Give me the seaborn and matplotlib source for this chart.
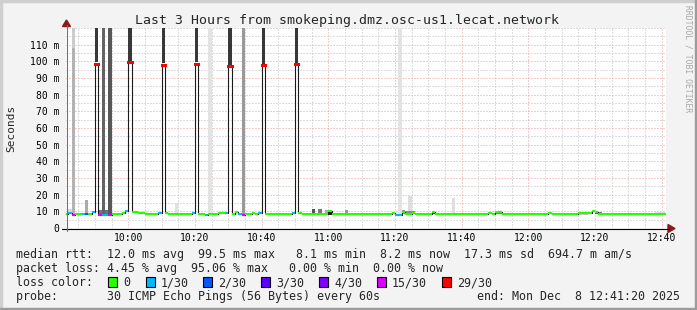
import matplotlib
matplotlib.use("Agg")
import matplotlib.pyplot as plt
from matplotlib.lines import Line2D
from matplotlib.patches import Rectangle, Polygon
from matplotlib.ticker import FixedLocator, MultipleLocator
import numpy as np
import pandas as pd
import seaborn as sns

# ------------------------------------------------------------------ data
title = "Last 3 Hours from smokeping.dmz.osc-us1.lecat.network"
window_start = "09:41:20"
window_end = "12:41:20"
first_step = "09:41"          # each value covers one 60 s step starting here

median_ms = [
    8.6, 9.0, 8.0, 8.2, 8.2, 8.3, 8.2, 8.4, 9.5, 98.6,     # 09:41
    8.0, 8.0, 8.0, 8.0, 8.2, 8.2, 8.3, 9.0, 10.0, 99.5,    # 09:51
    9.5, 9.5, 8.8, 8.8, 8.6, 8.3, 8.2, 8.3, 9.3, 97.9,     # 10:01
    9.0, 8.2, 8.2, 8.3, 8.2, 8.2, 8.3, 8.2, 9.3, 98.6,     # 10:11
    8.4, 8.4, 8.0, 8.2, 8.2, 8.2, 9.3, 9.3, 9.0, 97.0,     # 10:21
    8.4, 9.5, 8.2, 8.0, 8.3, 8.3, 9.3, 8.3, 9.3, 97.6,     # 10:31
    8.3, 8.3, 8.5, 8.5, 8.5, 8.3, 8.3, 8.3, 9.3, 98.2,     # 10:41
    9.0, 8.2, 8.2, 8.5, 8.3, 8.3, 8.3, 8.4, 8.4, 10.0,     # 10:51
    8.5, 8.4, 8.4, 8.3, 8.3, 8.2, 8.2, 8.3, 8.3, 8.2,      # 11:01
    8.5, 8.5, 8.3, 8.2, 8.2, 8.3, 8.3, 8.2, 8.9, 8.1,      # 11:11
    8.1, 9.5, 8.6, 8.2, 9.0, 8.2, 8.6, 8.2, 8.2, 8.3,      # 11:21
    9.5, 8.3, 8.3, 8.2, 8.2, 8.3, 8.4, 8.3, 8.3, 8.2,      # 11:31
    8.5, 8.3, 8.2, 8.2, 8.3, 8.3, 8.2, 8.8, 8.6, 9.8,      # 11:41
    9.6, 8.3, 8.3, 8.2, 8.2, 8.2, 8.3, 8.3, 8.2, 8.2,      # 11:51
    8.3, 8.3, 8.2, 8.2, 8.3, 8.9, 8.3, 8.2, 8.3, 8.2,      # 12:01
    8.3, 8.3, 8.6, 8.6, 9.0, 9.0, 9.1, 9.3, 10.0, 9.5,     # 12:11
    8.4, 8.4, 8.3, 8.3, 8.4, 8.3, 8.3, 8.7, 8.2, 8.2,      # 12:21
    8.7, 8.7, 8.7, 8.2, 8.6, 8.6, 8.2, 8.2, 8.2, 8.2,      # 12:31
    8.2,                                                   # 12:41
]
lost_pings = [
    0, 1, 15, 0, 0, 1, 2, 0, 1, 29,
    15, 1, 1, 15, 0, 0, 0, 0, 1, 29,
    0, 0, 0, 0, 0, 0, 0, 0, 1, 29,
    0, 0, 0, 0, 0, 0, 0, 0, 1, 29,
    0, 0, 1, 0, 0, 0, 0, 0, 1, 29,
    0, 0, 1, 15, 0, 0, 0, 0, 1, 29,
    0, 0, 0, 0, 0, 0, 0, 0, 1, 29,
    0, 0, 0, 0, 0, 0, 0, 0, 0, 0,
    0, 0, 0, 0, 0, 0, 0, 0, 0, 0,
    0, 0, 0, 0, 0, 0, 0, 0, 0, 1,
    1, 0, 0, 0, 0, 0, 0, 0, 0, 0,
    0, 0, 0, 0, 0, 0, 0, 0, 0, 0,
    0, 0, 0, 0, 0, 0, 0, 0, 0, 0,
    0, 0, 0, 0, 0, 0, 0, 0, 0, 0,
    0, 0, 0, 0, 0, 0, 0, 0, 0, 0,
    0, 0, 0, 0, 0, 0, 0, 0, 0, 0,
    0, 0, 0, 0, 0, 0, 0, 0, 0, 0,
    0, 0, 0, 0, 0, 0, 0, 0, 0, 0,
    0,
]

loss_classes = [0, 1, 2, 3, 4, 15, 29]
loss_labels = ["0", "1/30", "2/30", "3/30", "4/30", "15/30", "29/30"]
loss_colors = ["#26ff00", "#00b8ff", "#0059ff", "#5e00ff", "#7e00ff", "#dd00ff", "#ff0000"]

# smoke (ping spread) per step: start minute, low / high ms, density (0..1)
smoke_step = ["09:42", "09:43", "09:43", "09:47", "09:50", "09:51", "09:52", "09:53",
              "09:54", "10:00", "10:03", "10:04", "10:05", "10:10", "10:14", "10:20",
              "10:24", "10:29", "10:30", "10:34", "10:39", "10:40", "10:50", "10:55",
              "10:57", "10:59", "11:00", "11:05", "11:21", "11:22", "11:23", "11:24",
              "11:24", "11:25", "11:31", "11:37", "11:48", "11:50", "11:51", "12:15",
              "12:16", "12:17", "12:18", "12:20", "12:21", "12:38", "12:39", "12:40"]
smoke_low = [8.8, 8.2, 108, 8.5, 99.5, 8.2, 8.2, 8.2,
             8.2, 100.5, 8.2, 8.5, 8.5, 98.8, 8.5, 99.5,
             8.5, 8.3, 98.0, 8.2, 8.3, 98.5, 99.0, 8.5,
             8.5, 8.5, 8.0, 8.3, 8.5, 8.5, 8.3, 10.0,
             8.3, 8.3, 8.3, 8.5, 8.3, 8.3, 8.3, 8.0,
             8.0, 8.0, 8.5, 8.3, 8.3, 8.5, 8.5, 8.5]
smoke_high = [11.5, 108, 125, 17.0, 125, 10.5, 125, 10.5,
              125, 125, 9.5, 10.0, 10.0, 125, 15.0, 125,
              125, 9.5, 125, 125, 9.5, 125, 125, 11.5,
              11.5, 11.0, 9.5, 11.0, 125, 10.5, 10.5, 19.0,
              10.5, 10.0, 9.5, 18.0, 9.0, 10.0, 10.0, 9.0,
              9.0, 9.0, 9.5, 10.0, 9.5, 9.5, 9.5, 9.5]
smoke_density = [0.15, 0.30, 0.20, 0.33, 0.78, 0.55, 0.61, 0.55,
                 0.66, 0.78, 0.75, 0.12, 0.12, 0.78, 0.12, 0.78,
                 0.11, 0.70, 0.78, 0.40, 0.62, 0.78, 0.78, 0.67,
                 0.53, 0.33, 0.87, 0.40, 0.11, 0.45, 0.45, 0.13,
                 0.45, 0.45, 0.80, 0.13, 0.80, 0.47, 0.47, 0.20,
                 0.20, 0.20, 0.80, 0.60, 0.50, 0.13, 0.13, 0.13]

x_tick_labels = ["10:00", "10:20", "10:40", "11:00", "11:20", "11:40",
                 "12:00", "12:20", "12:40"]
y_tick_values = [0, 10, 20, 30, 40, 50, 60, 70, 80, 90, 100, 110]

stat_rtt = "median rtt:  12.0 ms avg  99.5 ms max   8.1 ms min  8.2 ms now  17.3 ms sd  694.7 m am/s"
stat_loss = "packet loss: 4.45 % avg  95.06 % max   0.00 % min  0.00 % now"
probe_text = "probe:       30 ICMP Echo Pings (56 Bytes) every 60s"
end_text = "end: Mon Dec  8 12:41:20 2025"


# ------------------------------------------------------------------ helpers
def minutes(s):
    p = [int(v) for v in s.split(":")]
    while len(p) < 3:
        p.append(0)
    return p[0] * 60 + p[1] + p[2] / 60.0


def loss_color(n):
    for c, col in zip(loss_classes, loss_colors):
        if n <= c:
            return col
    return loss_colors[-1]


W, H = 697, 310
BG = "#f3f3f3"


def fx(px):
    return px / W


def fy(py):
    return 1 - py / H


sns.set_theme(style="white")
plt.rcParams["font.family"] = ["DejaVu Sans Mono", "DejaVu Sans"]

fig = plt.figure(figsize=(W / 100, H / 100), dpi=100, facecolor=BG)
ax = fig.add_axes([fx(66), fy(228), 600 / W, 200 / H])
ax.set_facecolor("white")

t_start, t_end = minutes(window_start), minutes(window_end)
ax.set_xlim(t_start, t_end)
ax.set_ylim(0, 120)
for s in ax.spines.values():
    s.set_visible(False)

# grid
ax.xaxis.set_major_locator(FixedLocator([minutes(l) for l in x_tick_labels]))
ax.xaxis.set_minor_locator(MultipleLocator(5))
ax.yaxis.set_major_locator(FixedLocator(y_tick_values))
ax.yaxis.set_minor_locator(MultipleLocator(5))
ax.set_axisbelow(True)
ax.grid(which="major", color="#f09a9a", ls=(0, (1, 2)), lw=0.72)
ax.grid(which="minor", color="#bdbdbd", ls=(0, (1, 2)), lw=0.72)
ax.set_xticklabels(x_tick_labels)
ax.set_yticklabels([f"{v} m" if v else "0" for v in y_tick_values])
ax.tick_params(which="major", length=2.5, width=0.72, color="#404040",
               labelsize=7, pad=2.5, labelcolor="black")
ax.tick_params(which="minor", length=1.5, width=0.72, color="#404040")
ax.tick_params(axis="x", which="major", pad=0.8)

# smoke
sm = pd.DataFrame({"t": [minutes(s) for s in smoke_step], "lo": smoke_low,
                   "hi": smoke_high, "d": smoke_density}).sort_values("d")
grays = [(1 - d, 1 - d, 1 - d) for d in sm["d"]]
ax.bar(sm["t"], sm["hi"] - sm["lo"], bottom=sm["lo"], width=1.0, align="edge",
       color=grays, linewidth=0, zorder=2)

# median line: thin dark steps + loss-coloured horizontal segments
t0 = minutes(first_step)
tt = t0 + np.arange(len(median_ms))
df = pd.DataFrame({"t": np.append(tt, tt[-1] + 1), "rtt": median_ms + [median_ms[-1]]})
sns.lineplot(data=df, x="t", y="rtt", drawstyle="steps-post", color="#1a1a1a",
             lw=0.8, estimator=None, sort=False, ax=ax, legend=False, zorder=3)
heavy = np.array(lost_pings) >= 16
cols = np.array([loss_color(n) for n in lost_pings])
med = np.array(median_ms)
ax.hlines(med[~heavy], tt[~heavy], tt[~heavy] + 1, colors=cols[~heavy], lw=1.45, zorder=4)
ax.hlines(med[heavy], tt[heavy], tt[heavy] + 1, colors=cols[heavy], lw=2.2, zorder=4,
          capstyle="projecting")
ax.set_xlabel("")
ax.set_ylabel("")

# axes lines and arrows
fig.add_artist(Line2D([fx(62), fx(669)], [fy(228.5), fy(228.5)], color="black", lw=0.8))
fig.add_artist(Line2D([fx(66.5), fx(66.5)], [fy(231), fy(25)], color="#707070", lw=0.8))
arrow_c = "#8b1a1a"
fig.add_artist(Polygon([(fx(668), fy(224.5)), (fx(675), fy(228.5)), (fx(668), fy(232.5))],
                       closed=True, color=arrow_c, transform=fig.transFigure))
fig.add_artist(Polygon([(fx(62.5), fy(26.5)), (fx(66.5), fy(20)), (fx(70.5), fy(26.5))],
                       closed=True, color=arrow_c, transform=fig.transFigure))

# frame shading
fig.add_artist(Rectangle((0, fy(2)), 1, 2 / H, color="#cfcfcf", transform=fig.transFigure))
fig.add_artist(Rectangle((0, 0), 2 / W, 1, color="#cfcfcf", transform=fig.transFigure))
fig.add_artist(Rectangle((0, 0), 1, 2 / H, color="#9c9c9c", transform=fig.transFigure))
fig.add_artist(Rectangle((fx(695), 0), 2 / W, 1, color="#9c9c9c", transform=fig.transFigure))

# texts
fig.text(fx(347), fy(24), title, ha="center", va="baseline", fontsize=9.5)
fig.text(fx(11), fy(128), "Seconds", rotation=90, ha="center", va="center", fontsize=8)
fig.text(fx(688), fy(59), "RRDTOOL / TOBI OETIKER", rotation=270, ha="center",
         va="center", fontsize=5.8, color="#a8a8a8")

LF = 8.4
fig.text(fx(16), fy(258), stat_rtt, ha="left", va="baseline", fontsize=LF)
fig.text(fx(16), fy(272), stat_loss, ha="left", va="baseline", fontsize=LF)
fig.text(fx(16), fy(286), "loss color:", ha="left", va="baseline", fontsize=LF)
box_x = [108, 146, 203, 261, 319, 377, 442]
for bx, lab, col in zip(box_x, loss_labels, loss_colors):
    fig.add_artist(Rectangle((fx(bx), fy(286.5)), 9 / W, 9.5 / H, facecolor=col,
                             edgecolor="black", lw=0.8, transform=fig.transFigure))
    fig.text(fx(bx + 15), fy(286), lab, ha="left", va="baseline", fontsize=LF)
fig.text(fx(16), fy(300), probe_text, ha="left", va="baseline", fontsize=LF)
fig.text(fx(680), fy(300), end_text, ha="right", va="baseline", fontsize=LF)

fig.savefig("out.png", dpi=100, facecolor=BG)
